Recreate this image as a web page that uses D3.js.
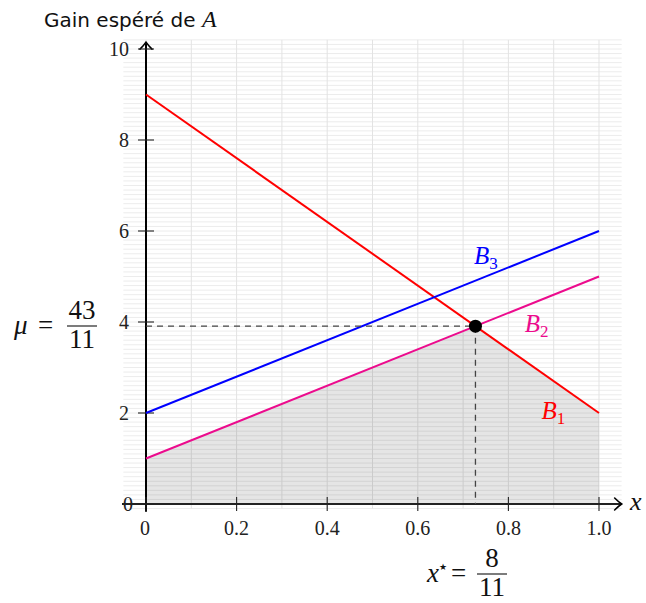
<!DOCTYPE html>
<html>
<head>
<meta charset="utf-8">
<script src="https://cdn.jsdelivr.net/npm/d3@7"></script>
<style>
  html, body { margin: 0; padding: 0; background: #fff; }
  svg { display: block; }
</style>
</head>
<body>
<script>
// Strategy values for player A (x) and expected gain endpoints of each response
const xDomain = [0, 1];
const xTicks = [0, 0.2, 0.4, 0.6, 0.8, 1.0];
const xTickLabels = ["0", "0.2", "0.4", "0.6", "0.8", "1.0"];
const yTicks = [0, 2, 4, 6, 8, 10];
const yTickLabels = ["0", "2", "4", "6", "8", "10"];

const lineNames = ["B1", "B2", "B3"];
const lineStart = [9, 1, 2];   // gain at x = 0
const lineEnd = [2, 5, 6];     // gain at x = 1
const lineColors = ["#ff0000", "#ec0b8d", "#0000ff"];

// Optimal mixed strategy and value of the game
const xStar = 8 / 11;
const mu = 43 / 11;

const W = 646, H = 603;
const svg = d3.select("body").append("svg").attr("width", W).attr("height", H);

const x = d3.scaleLinear().domain([0, 1]).range([146, 599]);
const y = d3.scaleLinear().domain([0, 10]).range([504, 49]);

const serif = "'Liberation Serif', 'Times New Roman', serif";
const sans = "'DejaVu Sans', 'Noto Sans', sans-serif";

// Background grid, every 0.1 on both axes
const gx0 = -0.05, gx1 = 1.05, gy0 = -0.1, gy1 = 10.2;
const grid = svg.append("g");
d3.range(-1, 103).map(v => v / 10).filter(v => v >= gy0 - 1e-9 && v <= gy1 + 1e-9).forEach(v => {
  grid.append("line")
    .attr("x1", x(gx0)).attr("x2", x(gx1))
    .attr("y1", y(v)).attr("y2", y(v))
    .attr("stroke", "#ececec").attr("stroke-width", 1);
});
d3.range(0, 11).map(v => v / 10).forEach(v => {
  grid.append("line")
    .attr("x1", x(v)).attr("x2", x(v))
    .attr("y1", y(gy0)).attr("y2", y(gy1))
    .attr("stroke", "#e3e3e3").attr("stroke-width", 1);
});

// Lower envelope of the responses B1 and B2: the guaranteed gain region
const envelope = [
  [0, 0], [0, lineStart[1]], [xStar, mu], [1, lineEnd[0]], [1, 0]
];
svg.append("path")
  .attr("d", d3.line().x(d => x(d[0])).y(d => y(d[1]))(envelope) + "Z")
  .attr("fill", "#000").attr("fill-opacity", 0.1);

// Axes
const axisG = svg.append("g").attr("stroke", "#000");
axisG.append("line")
  .attr("x1", x(-0.053)).attr("x2", x(1.05) - 1)
  .attr("y1", y(0)).attr("y2", y(0))
  .attr("stroke", "#222").attr("stroke-width", 2);
axisG.append("line")
  .attr("x1", x(0)).attr("x2", x(0))
  .attr("y1", y(-0.17)).attr("y2", y(10.15) + 1)
  .attr("stroke-width", 2);

// Arrow heads
axisG.append("path")
  .attr("d", `M${x(1.05) - 7},${y(0) - 6} Q${x(1.05) - 3},${y(0) - 2} ${x(1.05)},${y(0)} Q${x(1.05) - 3},${y(0) + 2} ${x(1.05) - 7},${y(0) + 6}`)
  .attr("fill", "none").attr("stroke-width", 1.6).attr("stroke-linecap", "round");
axisG.append("path")
  .attr("d", `M${x(0) - 6},${y(10.15) + 7} Q${x(0) - 2},${y(10.15) + 3} ${x(0)},${y(10.15)} Q${x(0) + 2},${y(10.15) + 3} ${x(0) + 6},${y(10.15) + 7}`)
  .attr("fill", "none").attr("stroke-width", 1.6).attr("stroke-linecap", "round");

// Tick marks
xTicks.forEach(v => {
  axisG.append("line")
    .attr("x1", x(v)).attr("x2", x(v))
    .attr("y1", y(0) - 7).attr("y2", y(0) + 7)
    .attr("stroke", "#222").attr("stroke-width", 1.1);
});
yTicks.forEach(v => {
  axisG.append("line")
    .attr("x1", x(0) - 8).attr("x2", x(0) + 8)
    .attr("y1", y(v)).attr("y2", y(v))
    .attr("stroke", "#222").attr("stroke-width", 1.1);
});

// Tick labels
xTicks.forEach((v, i) => {
  svg.append("text")
    .attr("x", x(v) - (i === 0 ? 1 : 0)).attr("y", y(0) + 31)
    .attr("text-anchor", "middle")
    .attr("font-family", serif).attr("font-size", 20)
    .attr("fill", "#222")
    .text(xTickLabels[i]);
});
yTicks.forEach((v, i) => {
  svg.append("text")
    .attr("x", i === 0 ? x(0) - 13 : x(0) - 17).attr("y", y(v) + 7)
    .attr("text-anchor", "end")
    .attr("font-family", serif).attr("font-size", 20)
    .attr("fill", "#222")
    .text(yTickLabels[i]);
});

// Response lines
lineNames.forEach((n, i) => {
  svg.append("line")
    .attr("x1", x(xDomain[0])).attr("y1", y(lineStart[i]))
    .attr("x2", x(xDomain[1])).attr("y2", y(lineEnd[i]))
    .attr("stroke", lineColors[i]).attr("stroke-width", 2);
});

// Guide lines to the optimum
svg.append("path")
  .attr("d", `M${x(0)},${y(mu)} H${x(xStar)} V${y(0)}`)
  .attr("fill", "none").attr("stroke", "#444").attr("stroke-width", 1.3)
  .attr("stroke-dasharray", "6,5");

svg.append("circle")
  .attr("cx", x(xStar)).attr("cy", y(mu)).attr("r", 6.5)
  .attr("fill", "#000");

// Line labels B1, B2, B3
function bLabel(px, py, sub, color) {
  const t = svg.append("text")
    .attr("x", px).attr("y", py)
    .attr("font-family", serif).attr("font-size", 25).attr("fill", color);
  t.append("tspan").attr("font-style", "italic").text("B");
  t.append("tspan").attr("font-size", 17).attr("dy", 5).text(sub);
}
bLabel(x(0.724), y(5.45) + 8, "3", lineColors[2]);
bLabel(x(0.836), y(3.95) + 8, "2", lineColors[1]);
bLabel(x(0.873), y(2.05) + 8, "1", lineColors[0]);

// Axis title
const title = svg.append("text")
  .attr("x", 44).attr("y", 27)
  .attr("font-family", sans).attr("font-size", 20).attr("fill", "#111");
title.append("tspan").text("Gain espéré de ");
title.append("tspan").attr("font-family", serif).attr("font-style", "italic").attr("font-size", 24).text("A");

// x axis label
svg.append("text")
  .attr("x", 630).attr("y", y(0) + 6)
  .attr("font-family", serif).attr("font-style", "italic").attr("font-size", 26)
  .attr("fill", "#111").text("x");

// Fraction helper: numerator and denominator stacked around a bar
function fractionLabel(cx, barY, num, den) {
  svg.append("text").attr("x", cx).attr("y", barY - 7)
    .attr("text-anchor", "middle").attr("font-family", serif).attr("font-size", 27)
    .attr("fill", "#111").text(num);
  svg.append("text").attr("x", cx).attr("y", barY + 22)
    .attr("text-anchor", "middle").attr("font-family", serif).attr("font-size", 27)
    .attr("fill", "#111").text(den);
  svg.append("line")
    .attr("x1", cx - 15).attr("x2", cx + 15)
    .attr("y1", barY).attr("y2", barY)
    .attr("stroke", "#111").attr("stroke-width", 1.1);
}

// mu = 43/11 on the vertical axis
svg.append("text").attr("x", 14).attr("y", 334)
  .attr("font-family", serif).attr("font-style", "italic").attr("font-size", 27)
  .attr("fill", "#111").text("μ");
svg.append("text").attr("x", 38).attr("y", 334)
  .attr("font-family", serif).attr("font-size", 27)
  .attr("fill", "#111").text("=");
fractionLabel(82, 326, "43", "11");

// x* = 8/11 below the horizontal axis
svg.append("text").attr("x", 427).attr("y", 582)
  .attr("font-family", serif).attr("font-style", "italic").attr("font-size", 27)
  .attr("fill", "#111").text("x");
svg.append("text").attr("x", 439).attr("y", 570)
  .attr("font-family", sans).attr("font-size", 9)
  .attr("fill", "#111").text("★");
svg.append("text").attr("x", 451).attr("y", 582)
  .attr("font-family", serif).attr("font-size", 27)
  .attr("fill", "#111").text("=");
fractionLabel(492, 574, "8", "11");
</script>
</body>
</html>
